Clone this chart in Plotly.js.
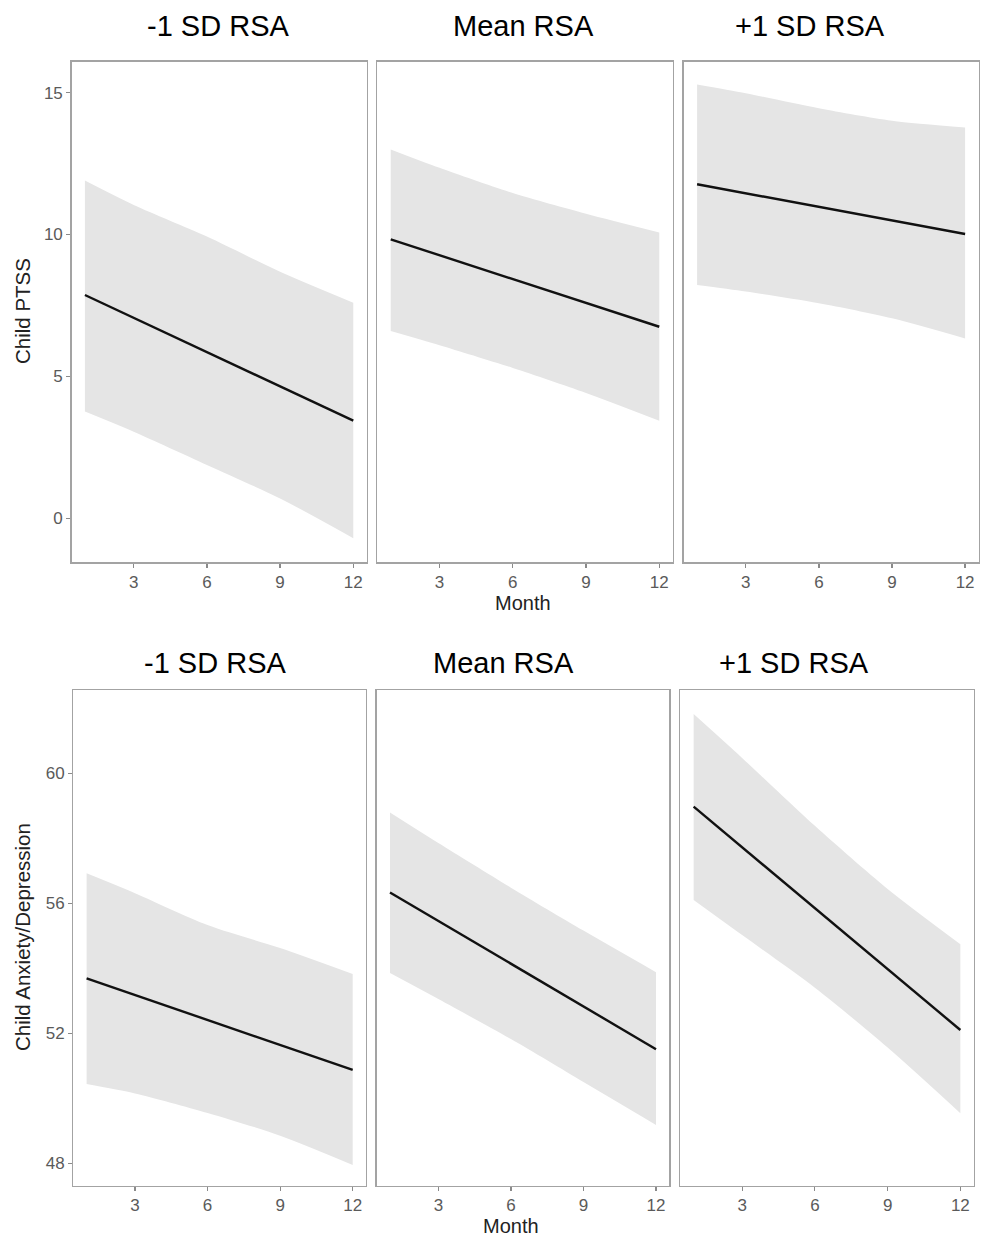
<!DOCTYPE html>
<html>
<head>
<meta charset="utf-8">
<script src="https://cdn.plot.ly/plotly-3.0.1.min.js"></script>
<style>html,body{margin:0;padding:0;background:#fff;}#chart{width:981px;height:1241px;}</style>
</head>
<body>
<div id="chart"></div>
<script>
// ---- data ----
const months = [1, 3, 6, 9, 12];
const panelTitles = ["-1 SD RSA", "Mean RSA", "+1 SD RSA"];

// Child PTSS
const ptssLowFit   = [7.87, 7.06, 5.86, 4.65, 3.44];
const ptssLowUpper = [11.90, 11.04, 9.93, 8.69, 7.60];
const ptssLowLower = [3.76, 3.05, 1.88, 0.70, -0.70];
const ptssMeanFit   = [9.83, 9.27, 8.43, 7.59, 6.75];
const ptssMeanUpper = [13.00, 12.35, 11.46, 10.73, 10.07];
const ptssMeanLower = [6.60, 6.10, 5.30, 4.42, 3.44];
const ptssHighFit   = [11.77, 11.45, 10.97, 10.50, 10.02];
const ptssHighUpper = [15.29, 14.98, 14.45, 14.01, 13.77];
const ptssHighLower = [8.22, 7.99, 7.58, 7.05, 6.34];

// Child Anxiety/Depression
const anxLowFit   = [53.69, 53.18, 52.41, 51.64, 50.87];
const anxLowUpper = [56.92, 56.31, 55.33, 54.62, 53.82];
const anxLowLower = [50.44, 50.15, 49.55, 48.85, 47.95];
const anxMeanFit   = [56.33, 55.45, 54.14, 52.82, 51.51];
const anxMeanUpper = [58.79, 57.85, 56.48, 55.16, 53.88];
const anxMeanLower = [53.85, 53.05, 51.82, 50.50, 49.18];
const anxHighFit   = [58.97, 57.72, 55.85, 53.97, 52.10];
const anxHighUpper = [61.82, 60.47, 58.38, 56.44, 54.74];
const anxHighLower = [56.10, 55.02, 53.40, 51.56, 49.54];

const xTicks = [3, 6, 9, 12];
const ptssTicks = [0, 5, 10, 15];
const anxTicks = [48, 52, 56, 60];
const ptssTitle = "Child PTSS";
const anxTitle = "Child Anxiety/Depression";
const xTitle = "Month";

// ---- layout helpers ----
const W = 981, H = 1241;
const px = v => v / W;
const py = v => 1 - v / H;
const FONT = "Liberation Sans, Arial, Helvetica, sans-serif";

const panels = [
  {fit: ptssLowFit,  up: ptssLowUpper,  lo: ptssLowLower,  x: [71.5, 366.7], y: [61.7, 562.3]},
  {fit: ptssMeanFit, up: ptssMeanUpper, lo: ptssMeanLower, x: [377.3, 672.7], y: [61.7, 562.3]},
  {fit: ptssHighFit, up: ptssHighUpper, lo: ptssHighLower, x: [683.7, 978.5], y: [61.7, 562.3]},
  {fit: anxLowFit,   up: anxLowUpper,   lo: anxLowLower,   x: [73.3, 366.0], y: [690.0, 1185.7]},
  {fit: anxMeanFit,  up: anxMeanUpper,  lo: anxMeanLower,  x: [376.7, 669.3], y: [690.0, 1185.7]},
  {fit: anxHighFit,  up: anxHighUpper,  lo: anxHighLower,  x: [680.3, 973.7], y: [690.0, 1185.7]}
];

const traces = [];
const layout = {
  width: W, height: H,
  margin: {l: 0, r: 0, t: 0, b: 0},
  paper_bgcolor: "#ffffff", plot_bgcolor: "#ffffff",
  showlegend: false,
  font: {family: FONT, color: "#4d4d4d"},
  annotations: []
};

panels.forEach((p, i) => {
  const k = i + 1;
  const xa = k === 1 ? "x" : "x" + k;
  const ya = k === 1 ? "y" : "y" + k;
  traces.push({x: months, y: p.lo, xaxis: xa, yaxis: ya, mode: "lines",
    line: {width: 0, color: "rgba(0,0,0,0)", shape: "spline", smoothing: 0.8}, hoverinfo: "skip"});
  traces.push({x: months, y: p.up, xaxis: xa, yaxis: ya, mode: "lines", fill: "tonexty",
    fillcolor: "#e5e5e5", line: {width: 0, color: "rgba(0,0,0,0)", shape: "spline", smoothing: 0.8}, hoverinfo: "skip"});
  traces.push({x: months, y: p.fit, xaxis: xa, yaxis: ya, mode: "lines",
    line: {width: 2.4, color: "#111111"}});

  const top = i < 3;
  const leftCol = (i % 3) === 0;
  layout["xaxis" + (k === 1 ? "" : k)] = {
    domain: [px(p.x[0]), px(p.x[1])], anchor: ya,
    range: [0.45, 12.55], tickvals: xTicks, ticktext: xTicks.map(String),
    ticks: "outside", ticklen: 4, tickwidth: 1.2, tickcolor: "#8a8a8a",
    tickfont: {size: 17, color: "#5a5a5a", family: FONT},
    showline: true, mirror: true, linecolor: "#a3a3a3", linewidth: 1.3,
    showgrid: false, zeroline: false, fixedrange: true
  };
  layout["yaxis" + (k === 1 ? "" : k)] = {
    domain: [py(p.y[1]), py(p.y[0])], anchor: xa,
    range: top ? [-1.55, 16.09] : [47.31, 62.56],
    tickvals: top ? ptssTicks : anxTicks,
    ticktext: (top ? ptssTicks : anxTicks).map(String),
    showticklabels: leftCol, ticks: leftCol ? "outside" : "",
    ticklen: 4, tickwidth: 1.2, tickcolor: "#8a8a8a",
    tickfont: {size: 17, color: "#5a5a5a", family: FONT},
    showline: true, mirror: true, linecolor: "#a3a3a3", linewidth: 1.3,
    showgrid: false, zeroline: false, fixedrange: true
  };
});

// titles
const titleTop = [[218, 26], [523, 26], [810, 26]];
const titleBot = [[215, 663], [503, 663], [794, 663]];
titleTop.concat(titleBot).forEach((t, i) => {
  layout.annotations.push({text: panelTitles[i % 3], xref: "paper", yref: "paper",
    x: px(t[0]), y: py(t[1]), xanchor: "center", yanchor: "middle", showarrow: false,
    font: {size: 29, color: "#000000", family: FONT}});
});
// x titles
[[523, 603], [511, 1226]].forEach(t => {
  layout.annotations.push({text: xTitle, xref: "paper", yref: "paper",
    x: px(t[0]), y: py(t[1]), xanchor: "center", yanchor: "middle", showarrow: false,
    font: {size: 20, color: "#222222", family: FONT}});
});
// y titles
[[ptssTitle, 22, 311], [anxTitle, 22, 937]].forEach(t => {
  layout.annotations.push({text: t[0], xref: "paper", yref: "paper",
    x: px(t[1]), y: py(t[2]), xanchor: "center", yanchor: "middle", showarrow: false,
    textangle: -90, font: {size: 20.5, color: "#222222", family: FONT}});
});

Plotly.newPlot("chart", traces, layout, {displayModeBar: false, staticPlot: true});
</script>
</body>
</html>
